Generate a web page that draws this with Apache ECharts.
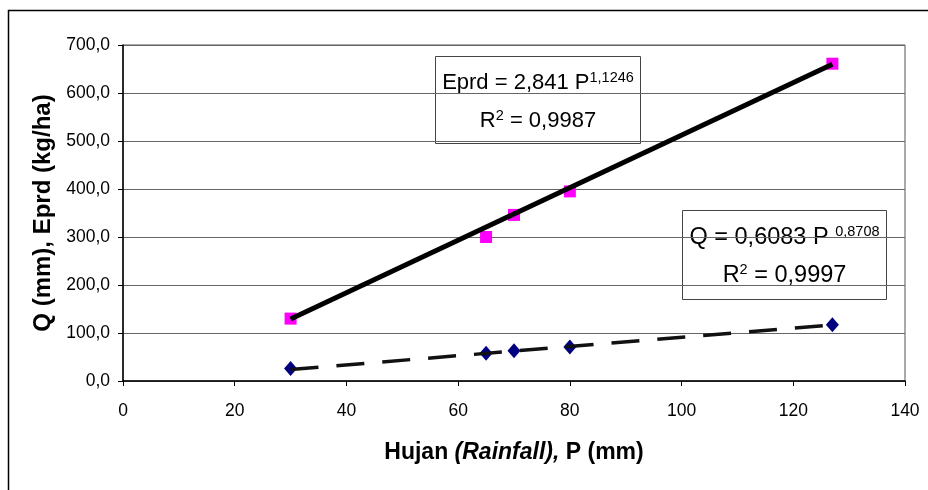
<!DOCTYPE html>
<html><head><meta charset="utf-8">
<script src="https://cdn.jsdelivr.net/npm/echarts@6/dist/echarts.min.js"></script>
<style>html,body{margin:0;padding:0;background:#fff}#c{width:928px;height:490px}</style>
</head><body><div id="c"></div>
<script>
// Data
const rainfallP = [30, 65, 70, 80, 127];
const eprdValues = [130, 300, 346, 395, 661];
const qValues = [26, 58, 63, 71, 117];
const trendP = [30, 127];
const eprdTrend = [129, 660];
const qTrend = [24, 117];
const xTicks = [0, 20, 40, 60, 80, 100, 120, 140];
const yTicks = [0, 100, 200, 300, 400, 500, 600, 700];

const FONT = '"Liberation Sans", Arial, sans-serif';
const pair = (xs, ys) => xs.map((x, i) => [x, ys[i]]);

const chart = echarts.init(document.getElementById('c'), null, {renderer: 'canvas'});
function rich(size) {
  return {
    m: {fontSize: size, fontFamily: FONT, color: '#000', lineHeight: size + 2},
    s: {fontSize: 14.5, fontFamily: FONT, color: '#000', lineHeight: 14, verticalAlign: 'top'}
  };
}
function box(x, y, w, h, size, l1y, l2y, line1, line2) {
  return {
    type: 'group', left: x, top: y, z: 100,
    children: [
      {type: 'rect', shape: {x: 0, y: 0, width: w, height: h},
       style: {fill: '#fff', stroke: '#444', lineWidth: 1}},
      {type: 'text', x: w / 2, y: l1y,
       style: {text: line1, rich: rich(size), align: 'center', verticalAlign: 'top', font: size + 'px ' + FONT}},
      {type: 'text', x: w / 2, y: l2y,
       style: {text: line2, rich: rich(size), align: 'center', verticalAlign: 'top', font: size + 'px ' + FONT}}
    ]
  };
}

chart.setOption({
  animation: false,
  backgroundColor: '#fff',
  grid: {left: 123, right: 23, top: 45, bottom: 109, show: true, borderColor: '#555', borderWidth: 1, backgroundColor: 'transparent'},
  xAxis: {
    type: 'value', min: xTicks[0], max: xTicks[xTicks.length - 1], interval: 20,
    name: 'Hujan {i|(Rainfall),} P (mm)', nameLocation: 'middle', nameGap: 60,
    nameTextStyle: {fontSize: 23, fontWeight: 'bold', fontFamily: FONT, color: '#000',
      rich: {i: {fontSize: 23, fontWeight: 'bold', fontStyle: 'italic', fontFamily: FONT, color: '#000'}}},
    axisLine: {lineStyle: {color: '#000', width: 1.5}},
    axisTick: {show: true, inside: false, length: 5, lineStyle: {color: '#000'}},
    axisLabel: {fontSize: 17.5, fontFamily: FONT, color: '#000', margin: 21},
    splitLine: {show: false}
  },
  yAxis: {
    type: 'value', min: yTicks[0], max: yTicks[yTicks.length - 1], interval: 100,
    name: 'Q (mm), Eprd (kg/ha)', nameLocation: 'middle', nameGap: 67,
    nameTextStyle: {fontSize: 24, fontWeight: 'bold', fontFamily: FONT, color: '#000'},
    axisLine: {show: true, lineStyle: {color: '#000', width: 1.5}},
    axisTick: {show: true, inside: false, length: 5, lineStyle: {color: '#000'}},
    axisLabel: {fontSize: 17.5, fontFamily: FONT, color: '#000', margin: 13,
      formatter: v => v.toFixed(1).replace('.', ',')},
    splitLine: {show: true, lineStyle: {color: '#666', width: 1}}
  },
  series: [
    {type: 'scatter', name: 'Eprd', data: pair(rainfallP, eprdValues), symbol: 'rect', symbolSize: 12,
     itemStyle: {color: '#FF00FF', opacity: 1}, z: 2},
    {type: 'scatter', name: 'Q', data: pair(rainfallP, qValues), symbol: 'diamond', symbolSize: [13, 15],
     itemStyle: {color: '#000080', opacity: 1}, z: 2},
    {type: 'line', data: pair(trendP, eprdTrend), symbol: 'none',
     lineStyle: {color: '#000', width: 5}, z: 3},
    {type: 'line', data: pair(trendP, qTrend), symbol: 'none',
     lineStyle: {color: '#111', width: 3.5, type: [28, 18]}, z: 3}
  ],
  graphic: [
    {type: 'rect', left: 6, top: 8, shape: {x: 0, y: 0, width: 1000, height: 1000},
     style: {fill: 'none', stroke: '#000', lineWidth: 1.5}, z: 0, silent: true},
    box(435, 56, 205, 87, 22, 14, 52, '{m|Eprd = 2,841 P}{s|1,1246}', '{m|R}{s|2}{m| = 0,9987}'),
    box(682, 210, 204, 89, 23.5, 14, 52, '{m|Q = 0,6083 P }{s|0,8708}', '{m|R}{s|2}{m| = 0,9997}')
  ]
});
</script></body></html>
